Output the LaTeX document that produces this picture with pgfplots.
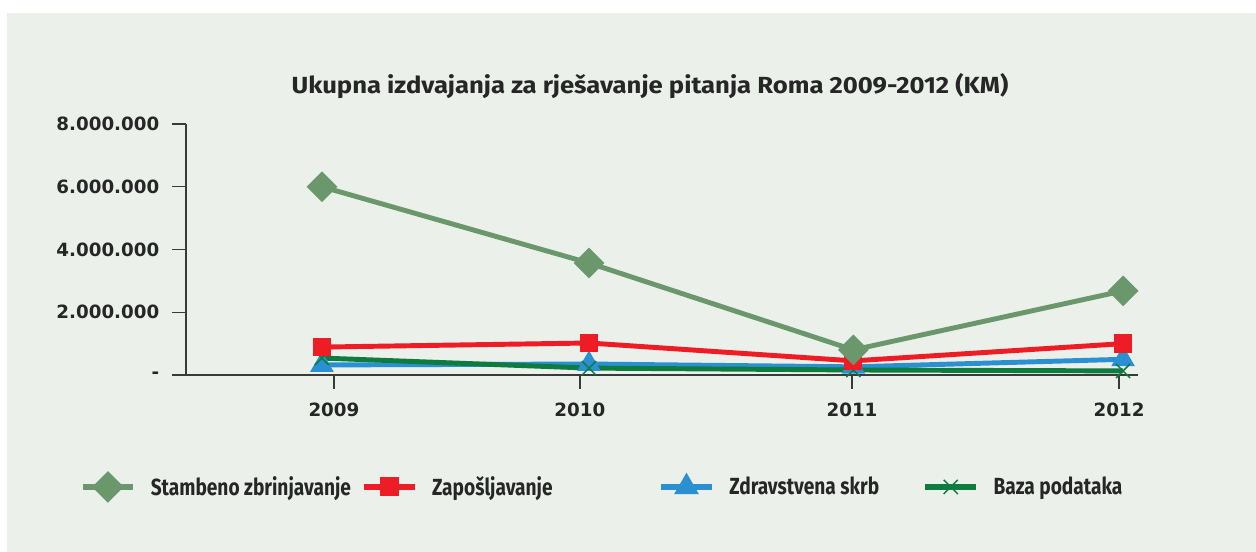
\documentclass[border=0pt]{standalone}
\usepackage{pgfplots}
\pgfplotsset{compat=1.18}
\usepackage{fontspec}
\setmainfont{DejaVu Sans}
\newfontfamily\condfont{Fira Sans}[FakeStretch=1.1]
\newfontfamily\legfont{Fira Sans}[FakeStretch=0.82]
\definecolor{bgpanel}{HTML}{EBF0EB}
\definecolor{cStamb}{HTML}{6A986C}
\definecolor{cZap}{HTML}{EE1D25}
\definecolor{cZdr}{HTML}{2B90D2}
\definecolor{cBaza}{HTML}{0E7B3F}
\definecolor{axcol}{HTML}{3A3A3A}
\begin{document}
\begin{tikzpicture}
\fill[white] (0pt,0pt) rectangle (942pt,414pt);
\fill[bgpanel] (5.25pt,0pt) rectangle (942pt,404.25pt);
\node[anchor=base, font=\condfont\bfseries\fontsize{17.5}{20}\selectfont, text=black!85] at (487.5pt,343.5pt) {Ukupna izdvajanja za rješavanje pitanja Roma 2009-2012 (KM)};
\begin{axis}[
  at={(139.5pt,132.75pt)}, anchor=south west, scale only axis,
  width=714pt, height=188.25pt,
  xmin=-0.509, xmax=3.056, ymin=0, ymax=8000000,
  axis x line*=bottom, axis y line*=left,
  axis line style={axcol, line width=1pt},
  tick style={axcol, line width=1pt},
  tick align=outside, major tick length=10.5pt,
  xtick={0.045,0.966,1.985,2.985},
  xticklabels={2009,2010,2011,2012},
  ytick={0,2000000,4000000,6000000,8000000},
  yticklabels={-,2.000.000,4.000.000,6.000.000,8.000.000},
  scaled y ticks=false,
  xticklabel style={font=\bfseries\fontsize{13.7}{16}\selectfont, text=black!85, yshift=-7pt},
  yticklabel style={font=\bfseries\fontsize{13.7}{16}\selectfont, text=black!85, xshift=-6pt},
  clip=false,
  legend style={at={(0.436,-0.446)}, anchor=center, draw=none, fill=none,
    legend columns=4, font=\legfont\bfseries\fontsize{17.5}{20}\selectfont,
    text=black!85, nodes={inner sep=0pt},
    /tikz/every odd column/.append style={column sep=11pt},
    /tikz/every even column/.append style={column sep=0pt},
    cells={anchor=west}},
  legend image code/.code={\draw[line width=4.2pt, mark repeat=2, mark phase=2] plot coordinates {(0pt,0pt)(19pt,0pt)(38pt,0pt)};},
]
\addlegendimage{cStamb, line width=3.7pt, mark=square*, mark size=6.3pt, mark options={rotate=45, solid}}
\addlegendentry{\makebox[157.75pt][l]{Stambeno zbrinjavanje}}
\addlegendimage{cZap, line width=3.7pt, mark=square*, mark size=5pt, mark options={solid}}
\addlegendentry{\makebox[169.75pt][l]{Zapošljavanje}}
\addlegendimage{cZdr, line width=3.7pt, mark=triangle*, mark size=6.5pt, mark options={solid}}
\addlegendentry{\makebox[145pt][l]{Zdravstvena skrb}}
\addlegendimage{cBaza, line width=3.7pt, mark=x, mark size=7.5pt, mark options={solid, line width=1.1pt}}
\addlegendentry{Baza podataka}

\addplot[forget plot, cZdr, line width=3.7pt, mark=triangle*, mark size=6.5pt, mark options={solid}]
  coordinates {(0,320000)(1,350000)(1.99,260000)(3,500000)};
\addplot[forget plot, cBaza, line width=3.7pt, mark=x, mark size=7.5pt, mark options={solid, line width=1.1pt}]
  coordinates {(0,540000)(1,220000)(1.99,160000)(3,130000)};
\addplot[forget plot, cZap, line width=3.7pt, mark=square*, mark size=5pt, mark options={solid}]
  coordinates {(0,890000)(1,1020000)(1.99,450000)(3,1000000)};
\addplot[forget plot, cStamb, line width=3.7pt, mark=square*, mark size=6.3pt, mark options={rotate=45, solid}]
  coordinates {(0,6000000)(1,3570000)(1.99,800000)(3,2680000)};
\end{axis}
\pgfresetboundingbox
\path[use as bounding box] (0pt,0pt) rectangle (942pt,414pt);
\end{tikzpicture}
\end{document}
